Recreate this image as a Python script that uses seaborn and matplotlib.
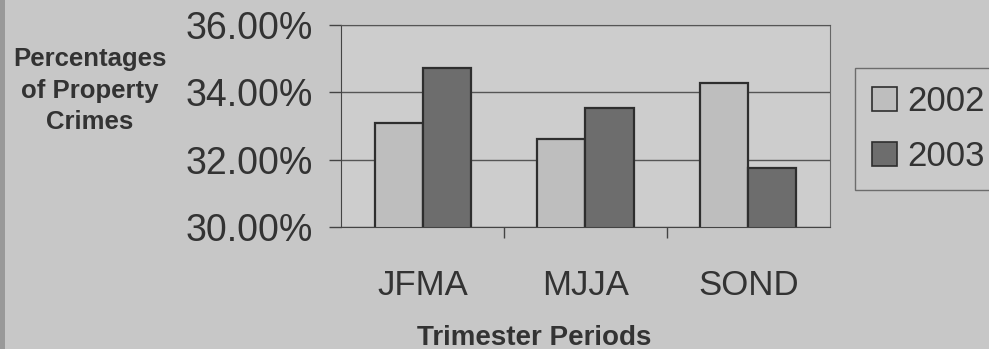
import pandas as pd
import numpy as np
import seaborn as sns
import matplotlib.pyplot as plt
from matplotlib.ticker import FuncFormatter
from matplotlib.patches import Patch, Rectangle

periods = ['JFMA', 'MJJA', 'SOND']
years = ['2002', '2003']
pct_2002 = [33.10, 32.62, 34.28]
pct_2003 = [34.72, 33.54, 31.76]

df = pd.DataFrame({
    'period': periods * 2,
    'year': [years[0]] * 3 + [years[1]] * 3,
    'pct': pct_2002 + pct_2003,
})

sns.set_style('white')
plt.rcParams['font.family'] = ['Liberation Sans', 'DejaVu Sans']

fig = plt.figure(figsize=(9.89, 3.49), dpi=100, facecolor='#c7c7c7')
# dark strip on the left edge of the scan
fig.patches.append(Rectangle((0, 0), 0.005, 1, transform=fig.transFigure,
                             facecolor='#999999', edgecolor='none'))
ax = fig.add_axes([0.345, 0.350, 0.494, 0.578])
ax.set_facecolor('#cdcdcd')

palette = {'2002': '#bebebe', '2003': '#6d6d6d'}
sns.barplot(data=df, x='period', y='pct', hue='year', palette=palette, ax=ax,
            width=0.59, edgecolor='#2e2e2e', linewidth=1.6, saturation=1, legend=False)

ax.set_ylim(30, 36)
ax.set_yticks([30, 32, 34, 36])
ax.yaxis.set_major_formatter(FuncFormatter(lambda v, p: f'{v:.2f}%'))
ax.grid(axis='y', color='#555555', linewidth=1)
ax.set_axisbelow(True)

ax.spines['top'].set_color('#555555')
ax.spines['right'].set_color('#666666')
ax.spines['left'].set_color('#444444')
ax.spines['bottom'].set_color('#444444')

ax.tick_params(axis='y', left=True, labelsize=27, colors='#333333', length=9, width=1, pad=11,
               direction='out', color='#444444')
ax.tick_params(axis='x', bottom=True, labelsize=25, colors='#333333', length=0, pad=30)
ax.set_xticks([0, 1, 2])
# small ticks between categories
ax.set_xticks([0.5, 1.5], minor=True)
ax.tick_params(axis='x', which='minor', bottom=True, length=8, width=1, direction='out', color='#444444')
ax.set_xlim(-0.5, 2.5)

ax.set_xlabel('')
ax.set_ylabel('')
fig.text(0.540, 0.032, 'Trimester Periods', ha='center', va='center',
         fontsize=20, fontweight='bold', color='#333333')
fig.text(0.091, 0.740, 'Percentages\nof Property\nCrimes', ha='center', va='center',
         fontsize=18.5, fontweight='bold', color='#333333', linespacing=1.4)

handles = [Patch(facecolor=palette[y], edgecolor='#2e2e2e', linewidth=1.2) for y in years]
leg = fig.legend(handles, years, loc='upper left', bbox_to_anchor=(0.8645, 0.805),
                 borderaxespad=0, fontsize=25, frameon=True, fancybox=False,
                 handlelength=0.7, handleheight=0.7, handletextpad=0.3, labelspacing=0.62,
                 borderpad=0.5, labelcolor='#333333')
leg.get_frame().set_facecolor('#cbcbcb')
leg.get_frame().set_edgecolor('#555555')

fig.savefig('out.png', dpi=100, facecolor=fig.get_facecolor())
